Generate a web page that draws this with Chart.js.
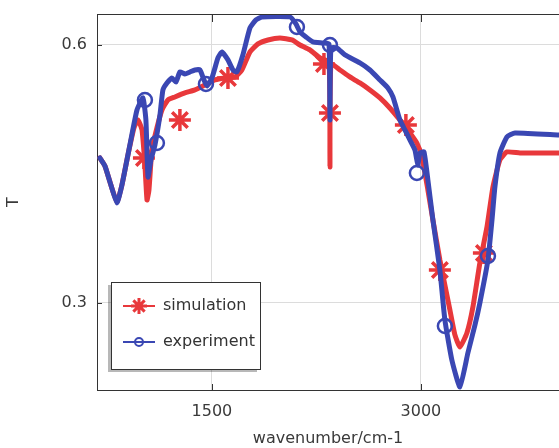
<!DOCTYPE html>
<html>
<head>
<meta charset="utf-8">
<script src="https://cdn.jsdelivr.net/npm/chart.js@4"></script>
<style>
  html, body { margin: 0; padding: 0; background: #fff; overflow: hidden; }
  #wrap { width: 559px; height: 448px; }
  canvas { filter: blur(0.5px); }
</style>
</head>
<body>
<div id="wrap"><canvas id="chart" width="559" height="448"></canvas></div>
<script>
  // series names
  var seriesNames = ["simulation", "experiment"];

  // simulation (red) curve
  var simX = [696, 732, 768, 818, 854, 897, 940, 969, 998, 1019, 1034, 1048, 1069, 1105, 1141, 1184, 1234, 1306,
    1378, 1450, 1522, 1593, 1665, 1715, 1773, 1830, 1902, 1988, 2074, 2132, 2203, 2275, 2340, 2347, 2354, 2419,
    2490, 2562, 2634, 2706, 2777, 2849, 2921, 2971, 3007, 3050, 3086, 3136, 3208, 3244, 3280, 3330, 3373, 3423,
    3474, 3517, 3567, 3617, 3711, 3991];
  var simY = [0.4686, 0.4593, 0.4407, 0.4174, 0.4372, 0.4721, 0.5035, 0.5128, 0.5012, 0.4604, 0.4197, 0.4314, 0.4779,
    0.5035, 0.5244, 0.5360, 0.5395, 0.5442, 0.5477, 0.5535, 0.5593, 0.5616, 0.5628, 0.5709, 0.5919, 0.6012, 0.6058,
    0.6081, 0.6058, 0.6000, 0.5942, 0.5849, 0.5802, 0.4581, 0.5779, 0.5709, 0.5628, 0.5558, 0.5477, 0.5384, 0.5267,
    0.5128, 0.4977, 0.4860, 0.4698, 0.4314, 0.3965, 0.3500, 0.2918, 0.2628, 0.2488, 0.2651, 0.2953, 0.3465, 0.3883,
    0.4349, 0.4663, 0.4756, 0.4744, 0.4744];

  // experiment (blue) curve
  var expX = [696, 732, 768, 818, 854, 911, 962, 1005, 1026, 1041, 1062, 1091, 1127, 1148, 1177, 1213, 1242, 1270,
    1306, 1342, 1378, 1414, 1443, 1464, 1500, 1543, 1572, 1615, 1651, 1679, 1722, 1773, 1816, 1859, 2060, 2103,
    2132, 2175, 2225, 2297, 2340, 2347, 2354, 2397, 2455, 2562, 2634, 2706, 2763, 2799, 2849, 2885, 2921, 2957,
    2978, 2993, 3022, 3050, 3086, 3136, 3172, 3222, 3280, 3337, 3388, 3423, 3481, 3510, 3531, 3567, 3617, 3675, 3991];
  var expY = [0.4686, 0.4593, 0.4407, 0.4163, 0.4372, 0.4837, 0.5244, 0.5384, 0.5128, 0.4465, 0.4663, 0.4837, 0.5186,
    0.5477, 0.5558, 0.5616, 0.5570, 0.5686, 0.5663, 0.5686, 0.5709, 0.5709, 0.5593, 0.5523, 0.5616, 0.5849, 0.5919,
    0.5826, 0.5709, 0.5686, 0.5884, 0.6198, 0.6291, 0.6326, 0.6326, 0.6244, 0.6151, 0.6093, 0.6035, 0.6023, 0.6012,
    0.5128, 0.5965, 0.5965, 0.5884, 0.5791, 0.5709, 0.5593, 0.5500, 0.5395, 0.5128, 0.5012, 0.4895, 0.4779, 0.4604,
    0.4744, 0.4756, 0.4430, 0.3965, 0.3383, 0.2802, 0.2337, 0.2023, 0.2418, 0.2744, 0.3000, 0.3500, 0.3965, 0.4349,
    0.4744, 0.4930, 0.4977, 0.4953];

  // marker positions
  var simMarkX = [1012, 1270, 1615, 2304, 2347, 2892, 3136, 3452];
  var simMarkY = [0.4686, 0.5128, 0.5616, 0.5779, 0.5209, 0.5070, 0.3383, 0.3581];
  var expMarkX = [1019, 1105, 1457, 2110, 2347, 2971, 3172, 3481];
  var expMarkY = [0.5360, 0.4860, 0.5546, 0.6209, 0.6000, 0.4511, 0.2732, 0.3546];

  // axes
  var xTicks = [1500, 3000];
  var yTicks = [0.3, 0.6];
  var xRange = [675, 3991];
  var yRange = [0.1988, 0.636];

  var RED = "#e8383b";
  var BLUE = "#3a47b3";

  function pts(xs, ys) {
    return xs.map(function (x, i) { return { x: x, y: ys[i] }; });
  }

  function drawAsterisk(ctx, x, y, r) {
    var d = r * Math.SQRT1_2;
    ctx.beginPath();
    ctx.moveTo(x - r, y); ctx.lineTo(x + r, y);
    ctx.moveTo(x, y - r); ctx.lineTo(x, y + r);
    ctx.moveTo(x - d, y - d); ctx.lineTo(x + d, y + d);
    ctx.moveTo(x - d, y + d); ctx.lineTo(x + d, y - d);
    ctx.stroke();
  }

  var framePlugin = {
    id: "frame",
    afterDatasetsDraw: function (chart) {
      var a = chart.chartArea, ctx = chart.ctx;
      var xs = chart.scales.x, ys = chart.scales.y;
      ctx.save();
      ctx.strokeStyle = "#333";
      ctx.lineWidth = 1;
      ctx.beginPath();
      ctx.moveTo(a.left, a.top + 0.5);
      ctx.lineTo(a.right, a.top + 0.5);
      xTicks.forEach(function (v) {
        var px = Math.round(xs.getPixelForValue(v)) + 0.5;
        ctx.moveTo(px, a.top); ctx.lineTo(px, a.top + 8);
        ctx.moveTo(px, a.bottom); ctx.lineTo(px, a.bottom - 6);
      });
      yTicks.forEach(function (v) {
        var py = Math.round(ys.getPixelForValue(v)) + 0.5;
        ctx.moveTo(a.left, py); ctx.lineTo(a.left + 5, py);
      });
      ctx.stroke();
      ctx.restore();
    },
    afterDraw: function (chart) {
      var ctx = chart.ctx;
      var bx = 111, by = 282, bw = 149, bh = 87;
      ctx.save();
      ctx.fillStyle = "rgba(0,0,0,0.28)";
      ctx.fillRect(bx - 3, by + 3, bw, bh);
      ctx.fillStyle = "#fff";
      ctx.fillRect(bx, by, bw, bh);
      ctx.strokeStyle = "#333";
      ctx.lineWidth = 1;
      ctx.strokeRect(bx + 0.5, by + 0.5, bw, bh);
      ctx.font = "16px 'DejaVu Sans', sans-serif";
      ctx.textBaseline = "middle";
      ctx.textAlign = "left";
      seriesNames.forEach(function (name, i) {
        var y = by + 24 + i * 36;
        var col = i === 0 ? RED : BLUE;
        ctx.strokeStyle = col;
        ctx.lineWidth = 2;
        ctx.beginPath();
        ctx.moveTo(bx + 12, y); ctx.lineTo(bx + 44, y);
        ctx.stroke();
        if (i === 0) {
          ctx.lineWidth = 3;
          drawAsterisk(ctx, bx + 28, y, 8);
        } else {
          ctx.lineWidth = 2;
          ctx.beginPath();
          ctx.arc(bx + 28, y, 4, 0, Math.PI * 2);
          ctx.stroke();
        }
        ctx.fillStyle = "#333";
        ctx.fillText(name, bx + 52, y);
      });
      ctx.restore();
    }
  };

  Chart.defaults.font.family = "'DejaVu Sans', sans-serif";
  Chart.defaults.font.size = 16;
  Chart.defaults.color = "#3a3a3a";

  new Chart(document.getElementById("chart"), {
    type: "scatter",
    data: {
      datasets: [
        { label: seriesNames[1] + " markers", data: pts(expMarkX, expMarkY), showLine: false, order: 0,
          pointStyle: "circle", pointRadius: 7, pointBorderWidth: 2.5, borderColor: BLUE, backgroundColor: "rgba(0,0,0,0)" },
        { label: seriesNames[1], data: pts(expX, expY), showLine: true, order: 1, pointRadius: 0,
          borderColor: BLUE, borderWidth: 5, borderCapStyle: "round", borderJoinStyle: "round", tension: 0.15 },
        { label: seriesNames[0] + " markers", data: pts(simMarkX, simMarkY), showLine: false, order: 2,
          pointStyle: "star", pointRadius: 11, pointBorderWidth: 3.5, borderColor: RED, backgroundColor: RED },
        { label: seriesNames[0], data: pts(simX, simY), showLine: true, order: 3, pointRadius: 0,
          borderColor: RED, borderWidth: 5, borderCapStyle: "round", borderJoinStyle: "round", tension: 0.15 }
      ]
    },
    options: {
      responsive: false,
      animation: false,
      events: [],
      layout: { autoPadding: false, padding: { top: 14, right: 0, bottom: 0, left: 0 } },
      plugins: { legend: { display: false }, tooltip: { enabled: false } },
      scales: {
        x: {
          type: "linear", min: xRange[0], max: xRange[1],
          afterBuildTicks: function (s) { s.ticks = xTicks.map(function (v) { return { value: v }; }); },
          afterFit: function (s) { s.height = 58; s.paddingLeft = 0; s.paddingRight = 0; },
          ticks: { padding: 12, callback: function (v) { return String(v); } },
          grid: { color: "#dcdcdc", drawTicks: false },
          border: { color: "#333", width: 1 },
          title: { display: true, text: "wavenumber/cm-1", padding: { top: 0, bottom: 0 } }
        },
        y: {
          type: "linear", min: yRange[0], max: yRange[1],
          afterBuildTicks: function (s) { s.ticks = yTicks.map(function (v) { return { value: v }; }); },
          afterFit: function (s) { s.width = 97; s.paddingTop = 0; s.paddingBottom = 0; },
          ticks: { padding: 10, callback: function (v) { return v.toFixed(1); } },
          grid: { color: "#dcdcdc", drawTicks: false },
          border: { color: "#333", width: 1 },
          title: { display: true, text: "T", padding: { top: 4, bottom: 0 } }
        }
      }
    },
    plugins: [framePlugin]
  });
</script>
</body>
</html>
